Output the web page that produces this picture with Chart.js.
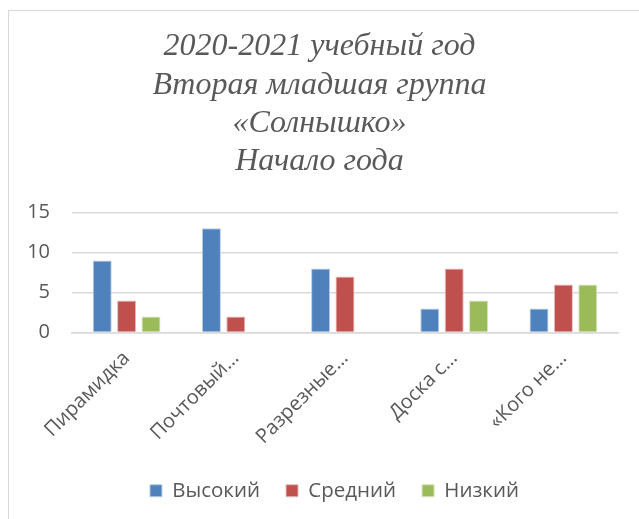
<!DOCTYPE html>
<html>
<head>
<meta charset="utf-8">
<script src="https://cdn.jsdelivr.net/npm/chart.js@4"></script>
<style>
  html, body { margin: 0; padding: 0; background: #fff; overflow: hidden; }
  #frame { position: absolute; left: 8px; top: 10px; width: 700px; height: 600px; border: 1.5px solid #d9d9d9; }
  #wrap { position: absolute; left: 0; top: 0; width: 639px; height: 519px; }
</style>
</head>
<body>
<div id="frame"></div>
<div id="wrap"><canvas id="chart"></canvas></div>
<script>
// Категории и значения серий
const categories = ['Пирамидка', 'Почтовый…', 'Разрезные…', 'Доска с…', '«Кого не…'];
const high   = [9, 13, 8, 3, 3];
const middle = [4, 2, 7, 8, 6];
const low    = [2, 0, 0, 4, 6];
const yTicks = [0, 5, 10, 15];
const titleLines = ['2020-2021 учебный год', 'Вторая младшая группа', '«Солнышко»', 'Начало года'];

const TEXT = '#595959';
const GRID = '#d9d9d9';

function series(label, data, color, edge) {
  return { label, data, backgroundColor: color, borderColor: edge, borderWidth: 1,
           barPercentage: 0.78, categoryPercentage: 0.67 };
}

// legend in the original sits a little right of centre
const legendShift = {
  id: 'legendShift',
  afterLayout(chart) {
    chart.legend.left += 15;
    chart.legend.right += 15;
  }
};

new Chart(document.getElementById('chart'), {
  type: 'bar',
  data: {
    labels: categories,
    datasets: [
      series('Высокий', high,   '#4F81BD', '#b9cde5'),
      series('Средний', middle, '#C0504D', '#e6b9b8'),
      series('Низкий',  low,    '#9BBB59', '#d7e4bd'),
    ]
  },
  plugins: [legendShift],
  options: {
    responsive: true, maintainAspectRatio: false, animation: false,
    layout: { padding: { left: 0, right: 0, top: 0, bottom: 8 } },
    plugins: {
      title: {
        display: true, text: titleLines, color: TEXT,
        font: { family: 'Liberation Serif', style: 'italic', weight: 'normal', size: 32, lineHeight: 1.19 },
        padding: { top: 28, bottom: 32 }
      },
      legend: {
        position: 'bottom',
        labels: { color: TEXT, boxWidth: 12, boxHeight: 12, padding: 26,
                  font: { family: 'Open Sans', size: 20.5 } }
      },
      tooltip: { enabled: false }
    },
    scales: {
      x: {
        grid: { display: false },
        border: { color: GRID, width: 1.5 },
        ticks: { color: TEXT, minRotation: 45, maxRotation: 45, autoSkip: false, padding: 6,
                 font: { family: 'Open Sans', size: 20 } },
        afterFit: s => { s.height = 122; }
      },
      y: {
        min: 0, max: 15,
        afterBuildTicks: s => { s.ticks = yTicks.map(v => ({ value: v })); },
        grid: { color: GRID, lineWidth: 1.5, drawTicks: false },
        border: { display: false },
        ticks: { color: TEXT, padding: 22, font: { family: 'Open Sans', size: 20 } },
        afterFit: s => { s.width = 72; }
      },
      // empty right gutter so the plot stops where the original does
      gutter: {
        position: 'right', display: true,
        grid: { display: false }, border: { display: false }, ticks: { display: false },
        afterFit: s => { s.width = 21; }
      }
    }
  }
});
</script>
</body>
</html>
